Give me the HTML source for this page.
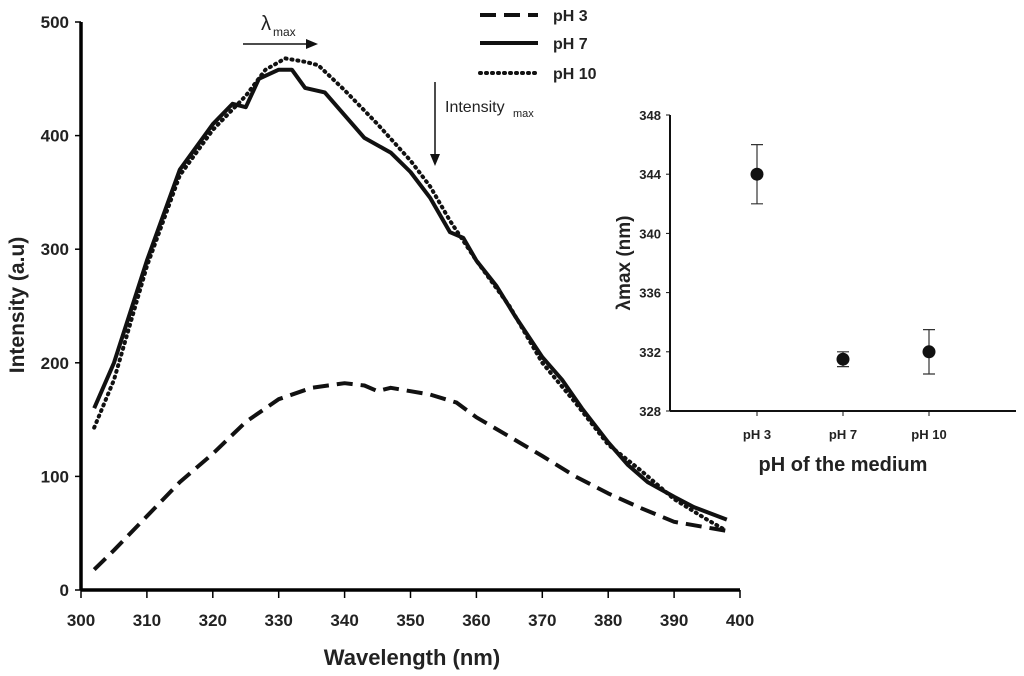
<!DOCTYPE html>
<html><head><meta charset="utf-8"><style>
body{margin:0;background:#fff}
svg{display:block;font-family:"Liberation Sans",Arial,sans-serif}
</style></head><body>
<svg id="c" width="1024" height="676" viewBox="0 0 1024 676"></svg>
<script>
const xTicks=[300,310,320,330,340,350,360,370,380,390,400];
const yTicks=[0,100,200,300,400,500];
const wl7=[302,305,310,315,320,323,325,327,330,332,334,337,340,343,347,350,353,356,358,360,363,366,370,373,376,380,383,386,390,393,398];
const ph7=[160,200,290,370,410,428,425,450,458,458,442,438,418,398,385,368,345,315,310,290,268,240,205,185,160,130,110,95,82,73,62];
const wl10=[302,305,310,315,320,325,328,331,334,336,340,345,350,353,356,360,365,370,375,380,385,390,395,398];
const ph10=[143,185,285,365,405,435,458,468,465,462,440,410,378,355,325,290,250,200,165,128,105,80,62,52];
const wl3=[302,305,310,315,320,325,330,335,340,343,345,347,350,353,357,360,365,370,375,380,385,390,395,398];
const ph3=[18,35,65,95,120,148,168,178,182,180,175,178,175,172,165,152,135,118,100,85,72,60,55,52];
const insetCats=["pH 3","pH 7","pH 10"];
const insetVals=[344,331.5,332];
const insetErr=[2,0.5,1.5];
const insetTicks=[328,332,336,340,344,348];

const svg=document.getElementById('c');
const NS='http://www.w3.org/2000/svg';
function mk(t,a,txt){const e=document.createElementNS(NS,t);for(const k in a)e.setAttribute(k,a[k]);if(txt!=null)e.textContent=txt;svg.appendChild(e);return e;}
const X=v=>81+(v-300)*(740-81)/100;
const Y=v=>590-v*(590-22)/500;

let e;
e=mk('line',{x1:X(300),y1:Y(0),x2:X(400),y2:Y(0),stroke:'#000','stroke-width':3.5});


e=mk('line',{x1:X(300),y1:Y(0),x2:X(300),y2:Y(500),stroke:'#000','stroke-width':3.5});


xTicks.forEach(t=>{
  mk('line',{x1:X(t),y1:Y(0),x2:X(t),y2:Y(0)+8,stroke:'#000','stroke-width':1.5});
  e=mk('text',{x:X(t),y:626,'text-anchor':'middle','font-size':17,'font-weight':'bold',fill:'#222'},t);
  
  
});
yTicks.forEach(t=>{
  mk('line',{x1:X(300)-6,y1:Y(t),x2:X(300),y2:Y(t),stroke:'#000','stroke-width':1.5});
  e=mk('text',{x:X(300)-12,y:Y(t)+6,'text-anchor':'end','font-size':17,'font-weight':'bold',fill:'#222'},t);
  
  
});
e=mk('text',{x:412,y:665,'text-anchor':'middle','font-size':22,'font-weight':'bold',fill:'#222'},'Wavelength (nm)');


e=mk('text',{x:0,y:0,transform:'translate(24,305) rotate(-90)','text-anchor':'middle','font-size':21,'font-weight':'bold',fill:'#222'},'Intensity (a.u)');



function line(xs,ys,dash,w,name){
  const d=xs.map((x,i)=>(i?'L':'M')+X(x).toFixed(1)+','+Y(ys[i]).toFixed(1)).join(' ');
  const p=mk('path',{d:d,fill:'none',stroke:'#111','stroke-width':w,'stroke-dasharray':dash,'stroke-linecap':dash==='1 5'?'round':'butt','stroke-linejoin':'round'});
  
  
}
line(wl3,ph3,'16 8',4,'series-ph3');
line(wl7,ph7,'none',4,'series-ph7');
line(wl10,ph10,'1 5',4,'series-ph10');

[['16 8','pH 3',15],['none','pH 7',43],['1 5','pH 10',73]].forEach(l=>{
  e=mk('line',{x1:480,y1:l[2],x2:538,y2:l[2],stroke:'#111','stroke-width':4,'stroke-dasharray':l[0],'stroke-linecap':l[0]==='1 5'?'round':'butt'});
  
  
  e=mk('text',{x:553,y:l[2]+6,'font-size':16,'font-weight':'bold',fill:'#222'},l[1]);
  
  
});

mk('line',{x1:243,y1:44,x2:310,y2:44,stroke:'#111','stroke-width':1.5});
mk('path',{d:'M318,44 L306,39 L306,49 Z',fill:'#111'});
e=mk('text',{x:261,y:30,'font-size':20,fill:'#222'},'λ');


mk('text',{x:273,y:36,'font-size':12,fill:'#222'},'max');
mk('line',{x1:435,y1:82,x2:435,y2:158,stroke:'#111','stroke-width':1.5});
mk('path',{d:'M435,166 L430,154 L440,154 Z',fill:'#111'});
e=mk('text',{x:445,y:112,'font-size':16,fill:'#222'},'Intensity');


mk('text',{x:513,y:117,'font-size':11,fill:'#222'},'max');

const IX=i=>757+i*86;
const IY=v=>411-(v-328)*(411-115)/20;
e=mk('line',{x1:670,y1:411,x2:1016,y2:411,stroke:'#111','stroke-width':2});


e=mk('line',{x1:670,y1:411,x2:670,y2:115,stroke:'#111','stroke-width':2});


insetTicks.forEach(t=>{
  mk('line',{x1:666,y1:IY(t),x2:670,y2:IY(t),stroke:'#111','stroke-width':1});
  e=mk('text',{x:661,y:IY(t)+5,'text-anchor':'end','font-size':13,'font-weight':'bold',fill:'#222'},t);
  
  
});
insetCats.forEach((c,i)=>{
  mk('line',{x1:IX(i),y1:411,x2:IX(i),y2:416,stroke:'#111','stroke-width':1});
  e=mk('text',{x:IX(i),y:439,'text-anchor':'middle','font-size':13,'font-weight':'bold',fill:'#222'},c);
  
  
  const v=insetVals[i],er=insetErr[i];
  e=mk('path',{d:`M${IX(i)},${IY(v+er)} L${IX(i)},${IY(v-er)} M${IX(i)-6},${IY(v+er)} L${IX(i)+6},${IY(v+er)} M${IX(i)-6},${IY(v-er)} L${IX(i)+6},${IY(v-er)}`,stroke:'#333','stroke-width':1.2,fill:'none'});
  
  
  e=mk('circle',{cx:IX(i),cy:IY(v),r:6.5,fill:'#111'});
  
  
});
e=mk('text',{x:843,y:471,'text-anchor':'middle','font-size':20,'font-weight':'bold',fill:'#222'},'pH of the medium');


e=mk('text',{x:0,y:0,transform:'translate(630,263) rotate(-90)','text-anchor':'middle','font-size':19,'font-weight':'bold',fill:'#222'},'λmax (nm)');


</script>
</body></html>
